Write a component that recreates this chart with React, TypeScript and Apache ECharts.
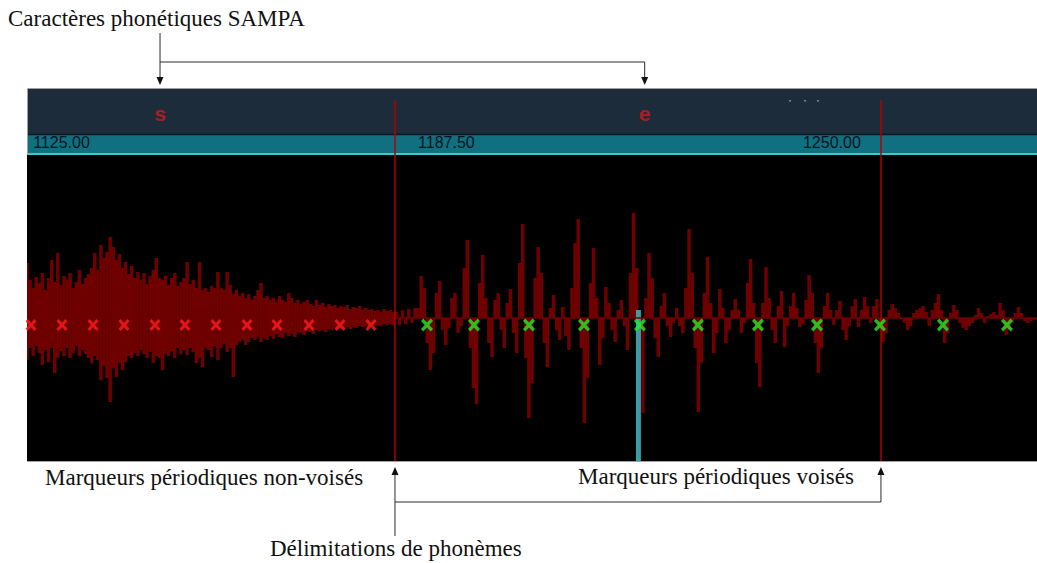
import React, { useEffect, useRef } from 'react';
import * as echarts from 'echarts';

// ---- data ----
const waveStart = 1124; // time of first waveform column
const waveStep = 0.5; // time between columns

// unvoiced (noise) region: per-column upper / lower extent
const noiseHi = [
  55, 38, 30, 41, 35, 45, 28, 40, 58, 36,
  65, 33, 42, 38, 45, 30, 36, 48, 34, 40,
  44, 50, 65, 48, 73, 60, 66, 81, 71, 58,
  64, 50, 56, 44, 52, 40, 46, 38, 45, 34,
  42, 48, 60, 40, 38, 42, 33, 40, 45, 32,
  36, 40, 56, 34, 38, 30, 56, 28, 30, 26,
  32, 30, 46, 30, 28, 46, 33, 24, 28, 22,
  25, 20, 24, 18, 22, 28, 35, 20, 22, 18,
  20, 16, 22, 18, 16, 25, 20, 15, 18, 14,
  16, 18, 14, 12, 18, 13, 15, 11, 14, 12,
  13, 10, 12, 11, 13, 9, 11, 10, 12, 8,
  10, 8, 9, 7, 8, 6, 9, 7, 8, 6,
];
const noiseLo = [
  -42, -30, -38, -28, -35, -47, -32, -44, -30, -55,
  -40, -33, -38, -30, -40, -35, -28, -38, -32, -36,
  -40, -45, -38, -42, -62, -48, -60, -84, -50, -59,
  -45, -52, -44, -38, -40, -35, -38, -32, -36, -40,
  -34, -45, -38, -40, -52, -36, -38, -33, -40, -30,
  -36, -32, -37, -30, -34, -45, -40, -49, -30, -32,
  -39, -28, -42, -30, -26, -34, -30, -59, -27, -24,
  -22, -27, -24, -20, -22, -19, -24, -20, -22, -18,
  -21, -16, -19, -20, -15, -18, -16, -19, -14, -15,
  -17, -13, -14, -16, -12, -13, -12, -14, -11, -12,
  -10, -12, -11, -10, -9, -11, -9, -10, -8, -9,
  -8, -9, -7, -8, -7, -8, -6, -7, -6, -7,
];
// voiced region: signed per-column amplitude (continues after the noise columns)
const voiced = [
  6, -7, 8, -6, 9, -5, 10, 10, 42, 30,
  -25, -52, -35, 25, 37, -12, -27, -10, 20, 25,
  -15, -8, 50, 78, -30, -70, -86, 35, 63, 20,
  -25, -39, 18, 25, -12, -30, 15, 29, -15, -35,
  55, 94, -40, -100, -65, 40, 71, 45, -25, -49,
  10, 23, -12, -22, 11, -18, -32, 30, 75, 99,
  -30, -105, -60, 35, 70, 20, -47, -20, 31, 15,
  -12, -24, 8, 18, -8, -32, 45, 105, 50, -50,
  -95, 20, 65, 40, -20, -39, 12, 25, -8, -19,
  -5, 10, -8, -15, 30, 89, 45, -30, -94, -45,
  25, 61, 15, -35, -15, 29, 10, -25, -12, 8,
  19, 8, -15, -5, 35, 59, 15, -45, -69, 15,
  51, 20, -12, -25, 12, 27, -29, -8, 12, 25,
  10, -9, -6, 18, 43, 25, -25, -55, -30, 12,
  25, 8, -7, 8, 17, -12, -22, -8, 12, 19,
  -9, 8, 21, 12, -5, 12, 19, -12, -24, -15,
  8, 14, 10, 5, 0, -5, -12, -8, 5, 8,
  10, 12, 6, -8, 8, 15, 24, 8, -25, -15,
  5, 13, 8, -5, -10, -12, -8, -5, 3, 10,
  5, -5, 2, 4, 6, 3, 15, 8, -17, -12,
  -5, 5, 11, 5, -3, -5, -3, -2, 0,
];

const unvoicedMarks = [1124.65, 1129.68, 1134.72, 1139.75, 1144.78, 1149.65, 1154.69, 1159.72, 1164.59, 1169.79, 1174.82, 1179.85];
const voicedMarks = [1188.95, 1196.58, 1205.51, 1214.44, 1223.53, 1232.94, 1242.69, 1252.27, 1262.5, 1272.73, 1283.12];
const markerLevel = -7;

const phonemes = ['s', 'e'];
const phonemeTimes = [1145.6, 1224.3];
const phonemeLevel = 0.76;
const boundaries = [1183.75, 1262.66];

const tickValues = [1125, 1187.5, 1250];
const cursorTime = 1223.28;
const cursorTop = 8;

const xMin = 1124;
const xMax = 1288;

const titleTop = 'Caractères phonétiques SAMPA';
const labelUnvoiced = 'Marqueurs périodiques non-voisés';
const labelVoiced = 'Marqueurs périodiques voisés';
const labelBounds = 'Délimitations de phonèmes';

const X_PATH = 'path://M0,1.9L1.9,0L5,3.1L8.1,0L10,1.9L6.9,5L10,8.1L8.1,10L5,6.9L1.9,10L0,8.1L3.1,5Z';

export default function App() {
  const ref = useRef<HTMLDivElement>(null);
  useEffect(() => {
    if (!ref.current) return;
    const chart = echarts.init(ref.current, undefined, { renderer: 'svg' });

    const waveData: number[][] = [];
    noiseHi.forEach((h, i) => waveData.push([waveStart + i * waveStep, noiseLo[i], h]));
    voiced.forEach((v, j) => {
      const t = waveStart + (noiseHi.length + j) * waveStep;
      waveData.push([t, Math.min(0, v), Math.max(0, v)]);
    });

    const serifFont = '"Liberation Serif", "Times New Roman", serif';
    const sansFont = '"Liberation Sans", Arial, sans-serif';

    chart.setOption({
      animation: false,
      backgroundColor: '#ffffff',
      grid: [
        { left: 27, right: 0, top: 155, height: 306, show: true, backgroundColor: '#000000', borderWidth: 0 },
        { left: 27, right: 0, top: 100, height: 55, show: false },
      ],
      xAxis: [
        {
          type: 'value', gridIndex: 0, min: xMin, max: xMax, position: 'top',
          axisLine: { show: false }, axisTick: { show: false }, splitLine: { show: false },
          axisLabel: {
            show: true, customValues: tickValues, align: 'left', margin: 5,
            formatter: (v: number) => v.toFixed(2),
            color: '#06121e', fontSize: 16, fontFamily: sansFont,
          },
        },
        {
          type: 'value', gridIndex: 1, min: xMin, max: xMax, show: false,
        },
      ],
      yAxis: [
        { type: 'value', gridIndex: 0, min: -143, max: 163, show: false },
        { type: 'value', gridIndex: 1, min: 0, max: 1, show: false },
      ],
      series: [
        {
          type: 'custom', name: 'wave', xAxisIndex: 0, yAxisIndex: 0, clip: true, z: 2,
          encode: { x: 0, y: [1, 2] },
          data: waveData,
          renderItem: (params: any, api: any) => {
            const t = api.value(0), lo = api.value(1), hi = api.value(2);
            const a = api.coord([t - waveStep / 2, hi]);
            const b = api.coord([t + waveStep / 2, lo]);
            const h = Math.max(b[1] - a[1], 1);
            return {
              type: 'rect',
              shape: { x: a[0] - 0.2, y: a[1], width: b[0] - a[0] + 0.4, height: h },
              style: { fill: '#6e0000' },
            };
          },
          markLine: {
            silent: true, symbol: 'none', label: { show: false },
            lineStyle: { color: '#6e0000', width: 1.5, type: 'solid' },
            data: [{ yAxis: 0 }],
          },
        },
        {
          type: 'custom', name: 'cursor', xAxisIndex: 0, yAxisIndex: 0, z: 3,
          data: [[cursorTime, cursorTop]],
          renderItem: (params: any, api: any) => {
            const p = api.coord([api.value(0), api.value(1)]);
            const cs = params.coordSys;
            return {
              type: 'rect',
              shape: { x: p[0] - 2.5, y: p[1], width: 5, height: cs.y + cs.height - p[1] },
              style: { fill: '#3c9ca4' },
            };
          },
        },
        {
          type: 'scatter', name: 'bounds', xAxisIndex: 0, yAxisIndex: 0, data: [], z: 4,
          markLine: {
            silent: true, symbol: 'none', label: { show: false },
            lineStyle: { color: '#b00000', width: 1.5, type: 'solid' },
            data: boundaries.map((b) => ({ xAxis: b })),
          },
        },
        {
          type: 'scatter', name: 'non-voisés', xAxisIndex: 0, yAxisIndex: 0, z: 5,
          symbol: X_PATH, symbolSize: [11, 12],
          itemStyle: { color: '#ff1c1c' },
          data: unvoicedMarks.map((t) => [t, markerLevel]),
        },
        {
          type: 'scatter', name: 'voisés', xAxisIndex: 0, yAxisIndex: 0, z: 5,
          symbol: X_PATH, symbolSize: [12, 13],
          itemStyle: { color: '#22ee22' },
          data: voicedMarks.map((t) => [t, markerLevel]),
        },
        {
          type: 'scatter', name: 'phonemes', xAxisIndex: 1, yAxisIndex: 1, z: 5,
          symbolSize: 0,
          data: phonemes.map((p, i) => [phonemeTimes[i], phonemeLevel, p]),
          label: {
            show: true, position: 'inside',
            formatter: (p: any) => p.data[2],
            color: '#d41818', fontSize: 21, fontWeight: 'bold', fontFamily: sansFont,
          },
          markLine: {
            silent: true, symbol: 'none', label: { show: false },
            lineStyle: { color: '#b00000', width: 1.5, type: 'solid' },
            data: boundaries.map((b) => ({ xAxis: b })),
          },
        },
      ],
    });

    const px = (v: number) => chart.convertToPixel({ xAxisIndex: 1 }, v) as number;
    const sx = px(phonemeTimes[0]);
    const ex = px(phonemeTimes[1]);
    const b1 = px(boundaries[0]);
    const b2 = px(boundaries[1]);
    const stroke = '#2a2a2a';
    const downArrow = (x: number, tip: number) => ({
      type: 'polygon', shape: { points: [[x - 3.5, tip - 8], [x + 3.5, tip - 8], [x, tip]] }, style: { fill: '#111' },
    });
    const upArrow = (x: number, tip: number) => ({
      type: 'polygon', shape: { points: [[x - 3.5, tip + 8], [x + 3.5, tip + 8], [x, tip]] }, style: { fill: '#111' },
    });
    const txt = (text: string, x: number, y: number) => ({
      type: 'text', x, y,
      style: { text, fill: '#111', font: `23px ${serifFont}`, verticalAlign: 'middle', align: 'left' },
    });

    chart.setOption({
      graphic: [
        { type: 'rect', z: -10, shape: { x: 27, y: 89, width: 1010, height: 45 }, style: { fill: '#1d2c3b' } },
        { type: 'rect', z: -10, shape: { x: 27, y: 134, width: 1010, height: 21 }, style: { fill: '#117080' } },
        { type: 'line', z: -9, shape: { x1: 27, y1: 134.5, x2: 1037, y2: 134.5 }, style: { stroke: '#0b161e', lineWidth: 1.5 } },
        { type: 'line', z: -9, shape: { x1: 27, y1: 154, x2: 1037, y2: 154 }, style: { stroke: '#46c6cc', lineWidth: 2 } },
        { type: 'rect', z: -9, shape: { x: 27.5, y: 88.5, width: 1012, height: 373 }, style: { fill: 'none', stroke: '#a0a0a0', lineWidth: 1 } },
        { type: 'rect', z: -9, shape: { x: 789, y: 100, width: 2, height: 1.5 }, style: { fill: '#7a8794' } },
        { type: 'rect', z: -9, shape: { x: 804, y: 100, width: 2, height: 1.5 }, style: { fill: '#7a8794' } },
        { type: 'rect', z: -9, shape: { x: 817, y: 100, width: 2, height: 1.5 }, style: { fill: '#7a8794' } },

        txt(titleTop, 8, 18),
        { type: 'line', shape: { x1: sx, y1: 33, x2: sx, y2: 78 }, style: { stroke, lineWidth: 1 } },
        { type: 'line', shape: { x1: sx, y1: 62, x2: ex, y2: 62 }, style: { stroke, lineWidth: 1.2 } },
        { type: 'line', shape: { x1: ex, y1: 62, x2: ex, y2: 78 }, style: { stroke, lineWidth: 1 } },
        downArrow(sx, 85),
        downArrow(ex, 85),

        txt(labelUnvoiced, 45, 477),
        txt(labelVoiced, 578, 476),
        txt(labelBounds, 270, 548),
        { type: 'line', shape: { x1: b1, y1: 474, x2: b1, y2: 536 }, style: { stroke, lineWidth: 1 } },
        { type: 'line', shape: { x1: b1, y1: 502, x2: b2, y2: 502 }, style: { stroke, lineWidth: 1.2 } },
        { type: 'line', shape: { x1: b2, y1: 474, x2: b2, y2: 502 }, style: { stroke, lineWidth: 1 } },
        upArrow(b1, 467),
        upArrow(b2, 467),
      ],
    });

    return () => chart.dispose();
  }, []);

  return (
    <div
      ref={ref}
      style={{ position: 'fixed', left: 0, top: 0, width: 1037, height: 563, background: '#ffffff' }}
    />
  );
}
